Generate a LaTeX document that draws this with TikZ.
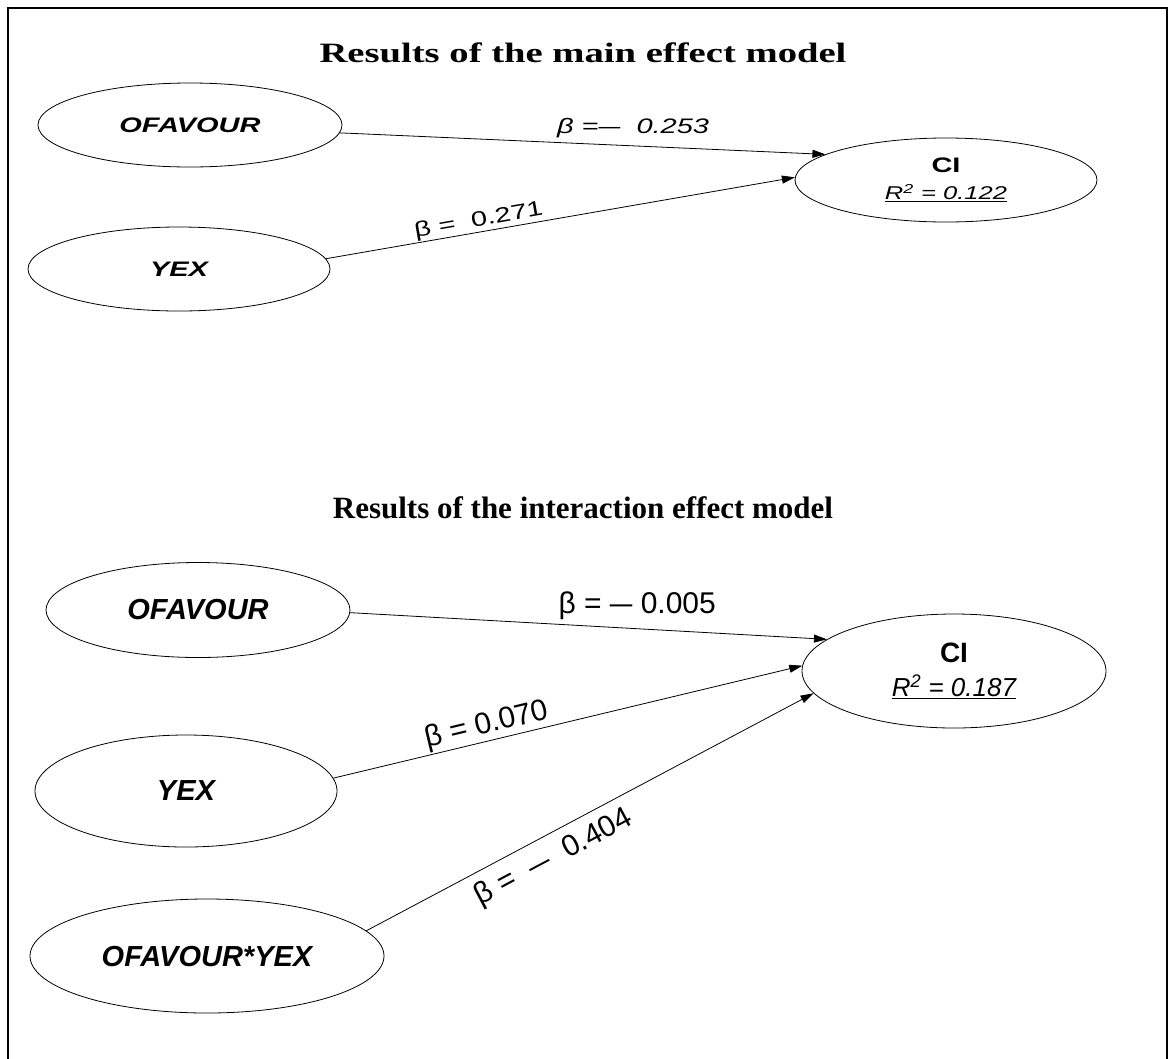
\documentclass[tikz,border=0pt]{standalone}
\usepackage{fontspec}
\setmainfont{Liberation Serif}
\setsansfont{Liberation Sans}
\usepackage{graphicx}
\usetikzlibrary{shapes.geometric,arrows.meta}
% the upper model is set in horizontally widened type
\newcommand{\widetext}[1]{\scalebox{1.38}[1]{#1}}
\newcommand{\bdash}{\scalebox{0.75}[1]{—}}

\begin{document}
\begin{tikzpicture}[x=1pt,y=-1pt,
  latent/.style={ellipse,draw,line width=0.8pt,inner sep=0pt,align=center},
  smallvar/.style={latent,font=\fontsize{21}{24}\selectfont\sffamily\bfseries\itshape},
  bigvar/.style={latent,font=\fontsize{29}{32}\selectfont\sffamily\bfseries\itshape},
  effect/.style={line width=0.8pt,-{Triangle[length=13pt,width=8pt]}},
  smallcoef/.style={font=\fontsize{21}{24}\selectfont\sffamily,inner sep=1pt},
  bigcoef/.style={font=\fontsize{30}{32}\selectfont\sffamily,inner sep=1pt},
  heading/.style={anchor=base,inner sep=0pt}
]
\useasboundingbox (0,0) rectangle (1169,1058);
\draw[line width=2.8pt] (8,1062) -- (8,8) -- (1167,8) -- (1167,1062);

% ---------- main effect model ----------
\node[heading,font=\fontsize{28}{30}\selectfont\bfseries] (title1) at (583,62)
  {\widetext{Results of the main effect model}};

\node[smallvar,minimum width=304pt,minimum height=84pt] (ofav1) at (190,125) {\widetext{OFAVOUR}};
\node[smallvar,minimum width=302pt,minimum height=84pt] (yex1) at (179,269) {\widetext{YEX}};
\node[latent,minimum width=302pt,minimum height=84pt,
      font=\fontsize{18.5}{27}\selectfont\sffamily] (ci1) at (946,180)
  {\widetext{\fontsize{21}{27}\selectfont\bfseries CI}\\
   \widetext{\itshape\underline{R\textsuperscript{2} = 0.122}}};

\draw[effect] (ofav1.-3.5) -- node[smallcoef,pos=0.604,anchor=base,yshift=12.5pt,inner sep=0pt] (b11)
  {\widetext{\itshape β =\bdash\ \ 0.253}} (ci1.168.4);
\draw[effect] (yex1.4.6) -- node[smallcoef,pos=0.33,sloped,above] (b12)
  {\widetext{β = \ 0.271}} (ci1.179);

% ---------- interaction effect model ----------
\node[heading,font=\fontsize{31}{33}\selectfont\bfseries] (title2) at (583,518)
  {Results of the interaction effect model};

\node[bigvar,minimum width=304pt,minimum height=95pt] (ofav2) at (198,610) {OFAVOUR};
\node[bigvar,minimum width=302pt,minimum height=112pt] (yex2) at (186,791) {YEX};
\node[bigvar,minimum width=354pt,minimum height=114pt] (inter) at (207,956) {OFAVOUR*YEX};
\node[latent,minimum width=304pt,minimum height=114pt,
      font=\fontsize{26}{34}\selectfont\sffamily] (ci2) at (954,671)
  {{\fontsize{28}{34}\selectfont\bfseries CI}\\
   {\itshape\underline{R\textsuperscript{2} = 0.187}}};

\draw[effect] (ofav2.-1.5) -- node[bigcoef,pos=0.602,anchor=base,yshift=15pt,inner sep=0pt] (b21)
  {β = \bdash\ 0.005} (ci2.166);
\draw[effect] (yex2.5.4) -- node[bigcoef,pos=0.335,sloped,above] (b22)
  {β = 0.070} (ci2.178.8);
\draw[effect] (inter.9.2) -- node[bigcoef,pos=0.395,sloped,below=8pt] (b23)
  {β = \ \bdash\ \ 0.404} (ci2.189);
\end{tikzpicture}
\end{document}
